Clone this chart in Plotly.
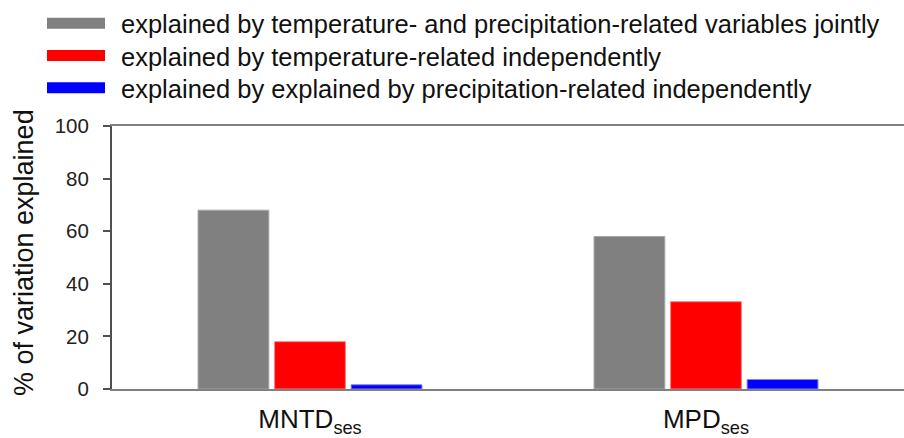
import plotly.graph_objects as go

# Diversity metrics on the x axis
categories = ["MNTD<sub>ses</sub>", "MPD<sub>ses</sub>"]

# Percentage of variation explained, per component
series_names = [
    "explained by temperature- and precipitation-related variables jointly",
    "explained by temperature-related independently",
    "explained by explained by precipitation-related independently",
]
joint_values = [68, 58]
temperature_values = [18, 33.2]
precipitation_values = [1.6, 3.6]

series_values = [joint_values, temperature_values, precipitation_values]
series_colors = ["#808080", "#ff0000", "#0000ff"]
series_edges = ["#a8a8a8", "#ff8080", "#8080ff"]

y_ticks = [0, 20, 40, 60, 80, 100]

FONT = "Liberation Sans, Arial, sans-serif"

fig = go.Figure()
for name, vals, col, edge in zip(series_names, series_values, series_colors, series_edges):
    fig.add_trace(go.Bar(
        x=categories, y=vals, name=name,
        marker=dict(color=col, line=dict(color=edge, width=1)),
        showlegend=False,
    ))

W, H = 904, 438
L, R, T, B = 112, 0, 126, 47
pw = W - L - R
ph = H - T - B

def px_x(x):
    return (x - L) / pw

def px_y(y):
    return (H - B - y) / ph

# Legend: wide colour swatches with their labels above the plot area
legend_rows = [22.5, 55, 87.5]
shapes = []
annotations = []
for name, col, yc in zip(series_names, series_colors, legend_rows):
    shapes.append(dict(
        type="rect", xref="paper", yref="paper",
        x0=px_x(47), x1=px_x(105), y0=px_y(yc + 5.5), y1=px_y(yc - 5.5),
        fillcolor=col, line=dict(width=0),
    ))
    annotations.append(dict(
        text=name, xref="paper", yref="paper",
        x=px_x(119), y=px_y(yc + 1), xanchor="left", yanchor="middle",
        showarrow=False, font=dict(family=FONT, size=25.5, color="#111"),
    ))

# Rotated y-axis title
annotations.append(dict(
    text="% of variation explained", xref="paper", yref="paper",
    x=px_x(24), y=px_y(254), xanchor="center", yanchor="middle",
    textangle=-90, showarrow=False,
    font=dict(family=FONT, size=27, color="#111"),
))

fig.update_layout(
    width=W, height=H,
    margin=dict(l=L, r=R, t=T, b=B, pad=0),
    paper_bgcolor="white", plot_bgcolor="white",
    barmode="group", bargap=0.42, bargroupgap=0.075,
    shapes=shapes, annotations=annotations,
    font=dict(family=FONT, color="#111"),
)
fig.update_xaxes(
    range=[-0.5, 1.5], showgrid=False, zeroline=False,
    showline=True, linecolor="#808080", linewidth=2, mirror=True,
    ticks="", tickfont=dict(family=FONT, size=26, color="#111"),
    ticklabelstandoff=6,
)
fig.update_yaxes(
    range=[0, 100], tickvals=y_ticks, showgrid=False, zeroline=False,
    showline=True, linecolor="#505050", linewidth=2,
    ticks="outside", ticklen=7, tickwidth=1.5, tickcolor="#505050",
    tickfont=dict(family=FONT, size=20.5, color="#222"),
    ticklabelstandoff=10,
)

fig.write_html("out.html")
